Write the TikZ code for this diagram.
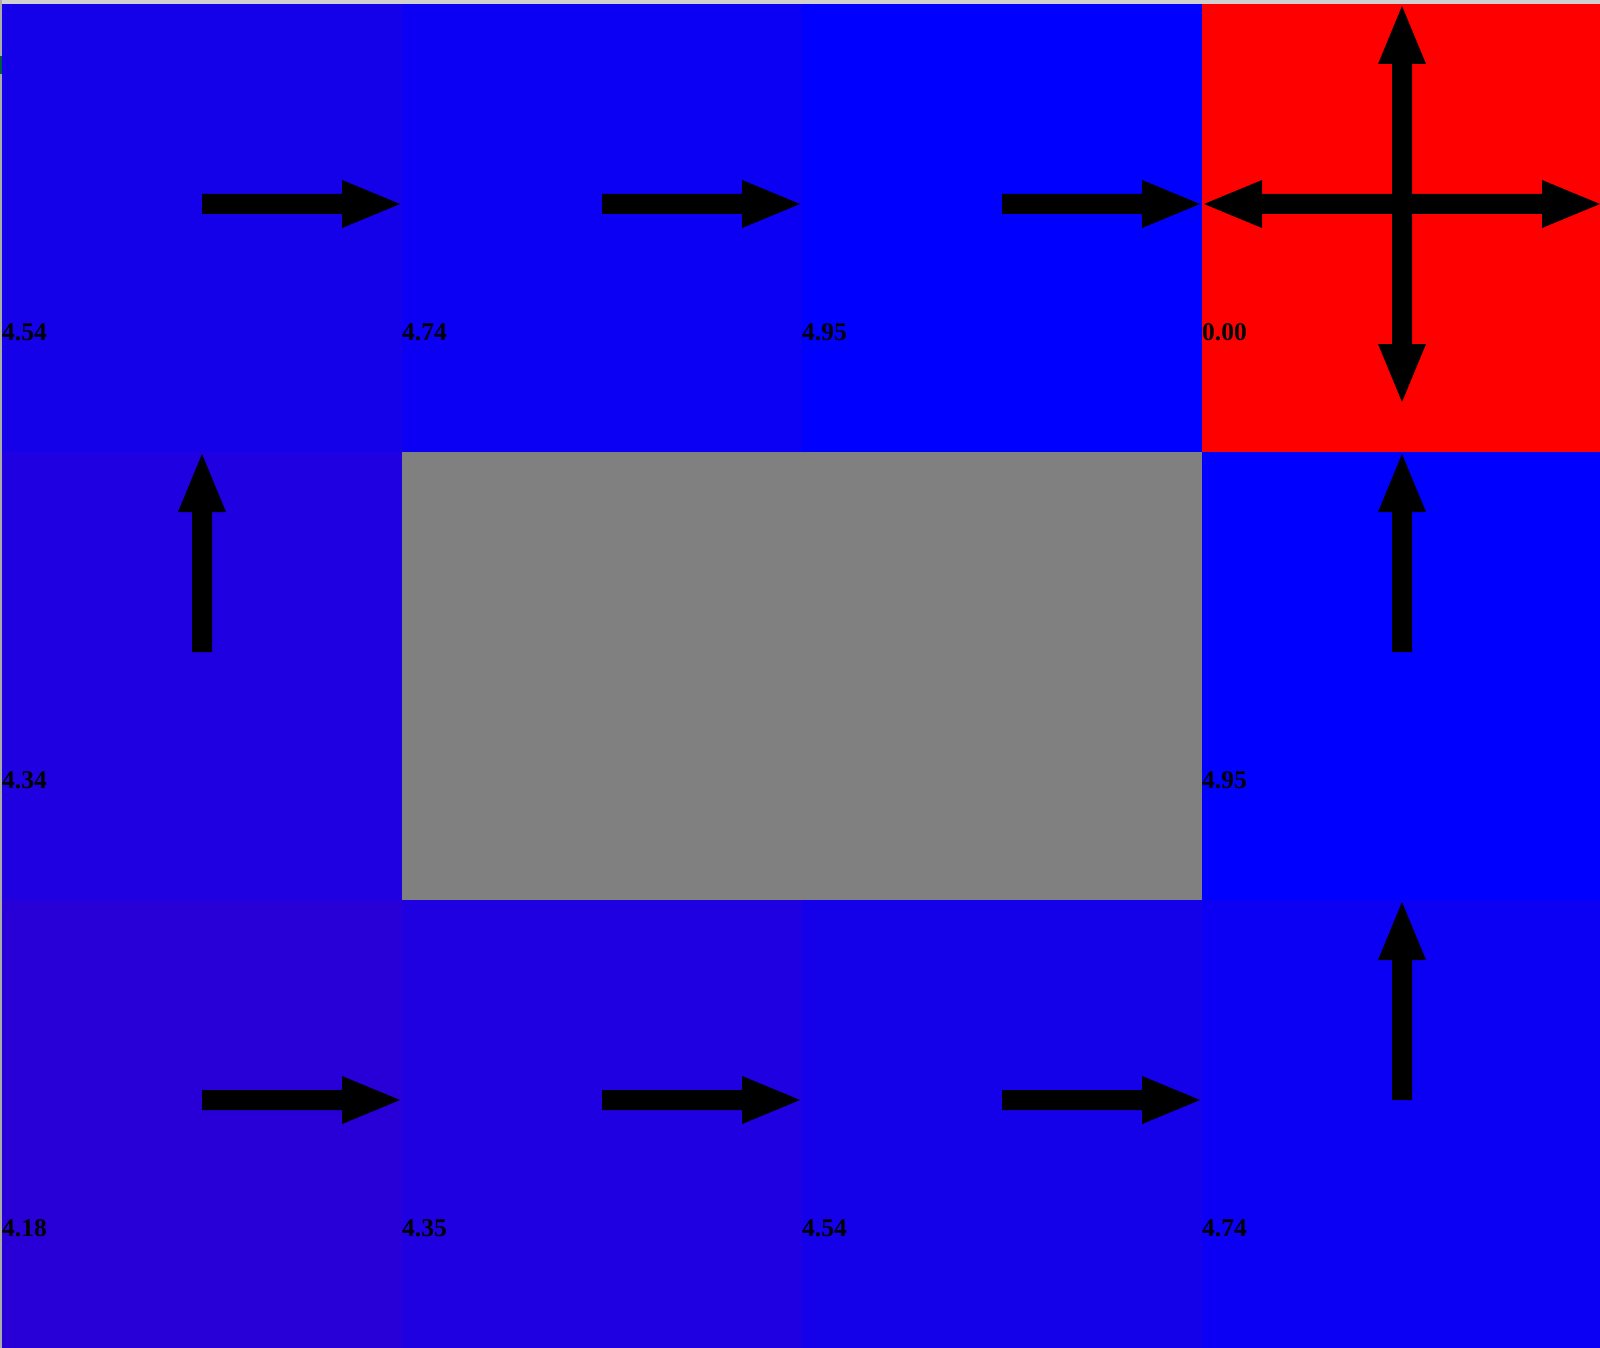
\documentclass[tikz,border=0pt]{standalone}
\usepackage{fontspec}
\setmainfont{Liberation Serif}
\definecolor{frame}{RGB}{208,208,208}
\definecolor{edge}{RGB}{170,170,170}
\definecolor{vA}{RGB}{0,0,255}     % 4.95
\definecolor{vB}{RGB}{11,0,244}    % 4.74
\definecolor{vC}{RGB}{21,0,234}    % 4.54
\definecolor{vD}{RGB}{31,0,224}    % 4.35 / 4.34
\definecolor{vE}{RGB}{40,0,215}    % 4.18
\definecolor{wall}{RGB}{128,128,128}
\definecolor{goal}{RGB}{255,0,0}
\definecolor{speck}{RGB}{0,96,64}
\tikzset{
  arr/.pic={\fill[black] (0,-10) -- (140,-10) -- (140,-24) -- (198,0) -- (140,24) -- (140,10) -- (0,10) -- cycle;},
  val/.style={anchor=base west, inner sep=0pt, font=\fontsize{25.5pt}{26pt}\selectfont\bfseries, text=black},
}
\begin{document}
\begin{tikzpicture}[x=1pt,y=-1pt]
\useasboundingbox (0,0) rectangle (1600,1348);
% window frame
\fill[frame] (0,0) rectangle (1600,4);
\fill[edge] (0,0) rectangle (2,1348);
\fill[speck] (0,56) rectangle (2,74);
% cells (columns 2,402,802,1202; rows 4,452,900)
\fill[vC] (2,4) rectangle (402,452);
\fill[vB] (402,4) rectangle (802,452);
\fill[vA] (802,4) rectangle (1202,452);
\fill[goal] (1202,4) rectangle (1600,452);
\fill[vD] (2,452) rectangle (402,900);
\fill[wall] (402,452) rectangle (1202,900);
\fill[vA] (1202,452) rectangle (1600,900);
\fill[vE] (2,900) rectangle (402,1348);
\fill[vD] (402,900) rectangle (802,1348);
\fill[vC] (802,900) rectangle (1202,1348);
\fill[vB] (1202,900) rectangle (1600,1348);
% policy arrows
\pic at (202,204) {arr};
\pic at (602,204) {arr};
\pic at (1002,204) {arr};
\pic at (1402,204) {arr};
\pic[rotate=90] at (1402,204) {arr};
\pic[rotate=180] at (1402,204) {arr};
\pic[rotate=-90] at (1402,204) {arr};
\pic[rotate=90] at (202,652) {arr};
\pic[rotate=90] at (1402,652) {arr};
\pic at (202,1100) {arr};
\pic at (602,1100) {arr};
\pic at (1002,1100) {arr};
\pic[rotate=90] at (1402,1100) {arr};
% values
\node[val] (l00) at (2,340) {4.54};
\node[val] (l01) at (402,340) {4.74};
\node[val] (l02) at (802,340) {4.95};
\node[val] (l03) at (1202,340) {0.00};
\node[val] (l10) at (2,788) {4.34};
\node[val] (l13) at (1202,788) {4.95};
\node[val] (l20) at (2,1236) {4.18};
\node[val] (l21) at (402,1236) {4.35};
\node[val] (l22) at (802,1236) {4.54};
\node[val] (l23) at (1202,1236) {4.74};
\end{tikzpicture}
\end{document}
